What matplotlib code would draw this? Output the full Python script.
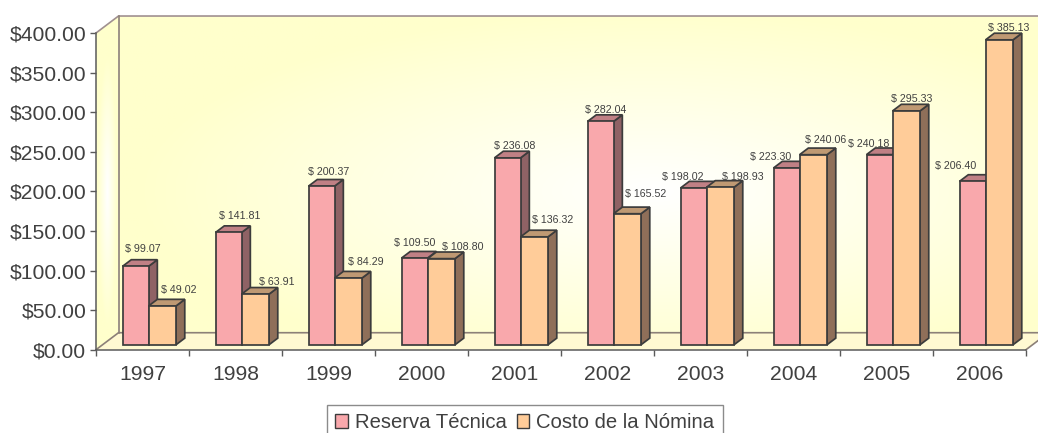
import numpy as np
import matplotlib
matplotlib.use('Agg')
import matplotlib.pyplot as plt
from matplotlib.patches import Polygon, Patch

plt.rcParams['font.family'] = ['Liberation Sans', 'DejaVu Sans']

# data
years = ['1997', '1998', '1999', '2000', '2001', '2002', '2003', '2004', '2005', '2006']
reserva = [99.07, 141.81, 200.37, 109.50, 236.08, 282.04, 198.02, 223.30, 240.18, 206.40]
nomina = [49.02, 63.91, 84.29, 108.80, 136.32, 165.52, 198.93, 240.06, 295.33, 385.13]
y_ticks = [0, 50, 100, 150, 200, 250, 300, 350, 400]

# label offsets from the top of each bar, pixels
reserva_off = [(7.5, 17.5), (11.5, 16.6), (7.5, 14), (0, 15), (7.5, 12),
               (5.5, 11.5), (-10.5, 11), (-15.5, 11), (-10.5, 10.7), (-16.5, 15.4)]
nomina_off = [(16.5, 16), (21.5, 12.4), (17.5, 16.2), (21.5, 11.8), (18.5, 17),
              (18.5, 19.8), (22.5, 10.3), (12.5, 14.8), (5.5, 12), (9, 12)]

TEXT = '#404040'
EDGE = '#3c3c3c'
YELLOW = np.array([255, 255, 204]) / 255
WHITE = np.array([255, 255, 255]) / 255

# oblique depth of the chart, in data units
DEPTH_X = 22.5 / 93
DEPTH_Y = 17 / 0.7925
Y_MAX = 400


def proj(x, v, d=0.0):
    return (x + d * DEPTH_X, v + d * DEPTH_Y)


def gradient_fill(ax, corners, extent, cx, cy, rx, ry):
    """ paint a yellow to white gradient clipped to a polygon """
    xs = np.linspace(extent[0], extent[1], 300)
    ys = np.linspace(extent[2], extent[3], 200)
    xx, yy = np.meshgrid(xs, ys)
    t = np.clip(np.sqrt(((xx - cx) / rx) ** 2 + ((yy - cy) / ry) ** 2), 0, 1)[..., None]
    img = WHITE * (1 - t) + YELLOW * t
    im = ax.imshow(img, extent=extent, origin='lower', aspect='auto', zorder=0)
    clip = Polygon(corners, closed=True, transform=ax.transData, fc='none', ec='none')
    ax.add_patch(clip)
    im.set_clip_path(clip)
    # the walls stick out of the axes box
    im.set_clip_box(ax.figure.bbox)


def draw_box(ax, x0, x1, value, colors):
    """ draw one 3d bar: front, side and top faces """
    d0, d1 = 0.29, 0.68
    front, side, top = colors
    fp = [proj(x0, 0, d0), proj(x1, 0, d0), proj(x1, value, d0), proj(x0, value, d0)]
    sp = [proj(x1, 0, d0), proj(x1, 0, d1), proj(x1, value, d1), proj(x1, value, d0)]
    tp = [proj(x0, value, d0), proj(x1, value, d0), proj(x1, value, d1), proj(x0, value, d1)]
    for pts, col in ((sp, side), (tp, top), (fp, front)):
        ax.add_patch(Polygon(pts, closed=True, fc=col, ec=EDGE, lw=1.25, zorder=3,
                             joinstyle='miter', clip_on=False))


fig = plt.figure(figsize=(10.38, 4.33), dpi=100)
ax = fig.add_axes([96 / 1038, (433 - 349.7) / 433, 930 / 1038, 316.7 / 433])
ax.patch.set_alpha(0)

# back wall, left wall and floor
back = [proj(0, 0, 1), proj(10, 0, 1), proj(10, Y_MAX, 1), proj(0, Y_MAX, 1)]
gradient_fill(ax, back, (0, 10.3, 0, Y_MAX + DEPTH_Y), 6.0, 200, 5.6, 230)
left = [proj(0, 0), proj(0, 0, 1), proj(0, Y_MAX, 1), proj(0, Y_MAX)]
gradient_fill(ax, left, (0, DEPTH_X, 0, Y_MAX + DEPTH_Y), 0.12, 200, 0.1, 170)
ax.add_patch(Polygon([proj(0, 0), proj(10, 0), proj(10, 0, 1), proj(0, 0, 1)],
                     closed=True, fc='#FFF9D2', ec='none', zorder=1, clip_on=False))

# wall outlines
WALL = '#8c8078'
ax.plot(*zip(proj(0, Y_MAX), proj(0, Y_MAX, 1), proj(10, Y_MAX, 1)), color='#a09090', lw=1.2,
        clip_on=False, zorder=2)
ax.plot(*zip(proj(0, 0, 1), proj(0, Y_MAX, 1)), color=WALL, lw=1.2, clip_on=False, zorder=2)
ax.plot(*zip(proj(0, 0), proj(0, 0, 1), proj(10, 0, 1)), color=WALL, lw=1.2, clip_on=False, zorder=2)
ax.plot(*zip(proj(10, 0), proj(10, 0, 1)), color=WALL, lw=1.2, clip_on=False, zorder=2)

# bars
pink = ('#F9A8AC', '#8F6265', '#C08085')
orange = ('#FFCC99', '#8F6F59', '#BF9973')
for i in range(len(years)):
    draw_box(ax, i + 0.215, i + 0.495, reserva[i], pink)
    draw_box(ax, i + 0.495, i + 0.79, nomina[i], orange)

# bar labels
for i in range(len(years)):
    for val, off, x0, x1 in ((reserva[i], reserva_off[i], 0.215, 0.495),
                             (nomina[i], nomina_off[i], 0.495, 0.79)):
        ax.annotate('$ %.2f' % val, xy=proj(i + (x0 + x1) / 2, val, 0.29),
                    xytext=(off[0] * 0.72, off[1] * 0.72), textcoords='offset points',
                    ha='center', va='center', fontsize=7.7, color=TEXT, zorder=5,
                    annotation_clip=False)

# axes
ax.set_xlim(0, 10)
ax.set_ylim(0, Y_MAX)
for s in ('top', 'right'):
    ax.spines[s].set_visible(False)
for s in ('left', 'bottom'):
    ax.spines[s].set_color('#5a5a5a')
    ax.spines[s].set_linewidth(1.1)
    ax.spines[s].set_zorder(4)
ax.set_yticks(y_ticks)
ax.set_yticklabels(['$%.2f' % v for v in y_ticks], fontsize=15.2, color=TEXT)
ax.set_xticks(np.arange(0, 11))
ax.set_xticklabels([])
ax.set_xticks(np.arange(len(years)) + 0.5, minor=True)
ax.set_xticklabels(years, minor=True, fontsize=15.2, color=TEXT)
ax.tick_params(axis='y', length=4, width=1, color='#5a5a5a', pad=3)
ax.tick_params(axis='x', which='major', length=4, width=1, color='#5a5a5a')
ax.tick_params(axis='x', which='minor', length=0, pad=11)

# legend, the frame runs off the bottom of the picture
handles = [Patch(fc=pink[0], ec=EDGE, label='Reserva Técnica'),
           Patch(fc=orange[0], ec=EDGE, label='Costo de la Nómina')]
leg = fig.legend(handles=handles, loc='upper left', bbox_to_anchor=(327 / 1038, 1 - 405 / 433),
                 ncols=2, fontsize=14.6, frameon=True, fancybox=False, borderaxespad=0,
                 handlelength=0.62, handleheight=0.62, handletextpad=0.35, columnspacing=0.5,
                 borderpad=0.4, labelcolor=TEXT)
leg.get_frame().set_edgecolor('#6e6e6e')
leg.get_frame().set_linewidth(1.0)

fig.savefig('out.png', dpi=100)
